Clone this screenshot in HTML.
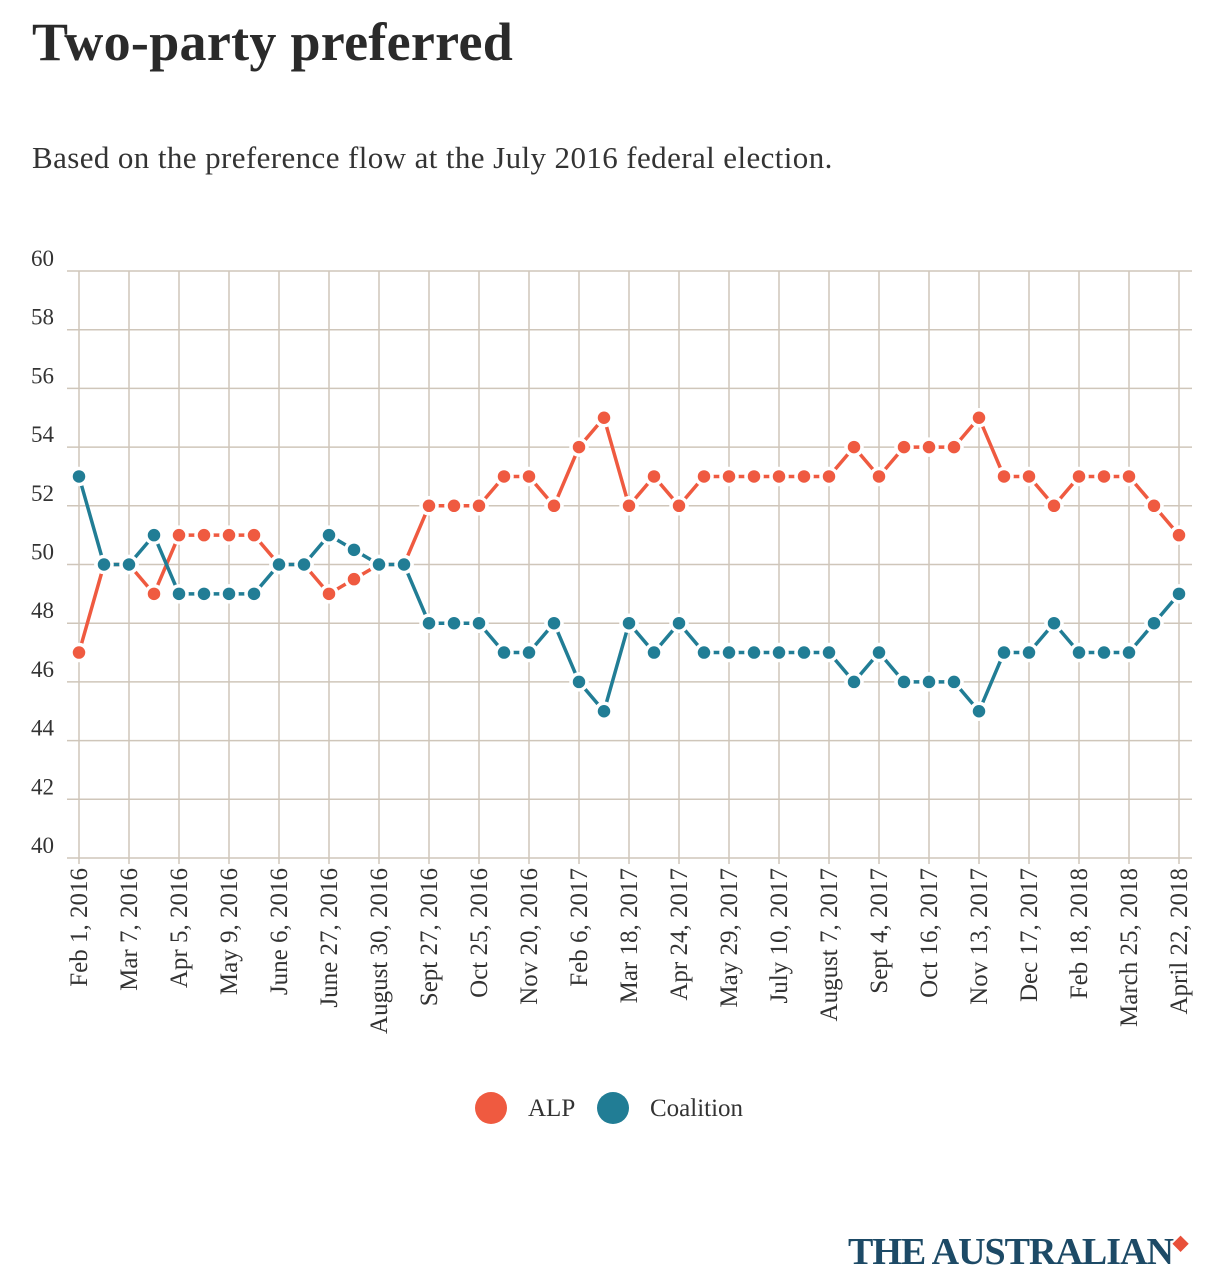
<!DOCTYPE html>
<html><head><meta charset="utf-8"><style>
body{margin:0;background:#fff;width:1217px;height:1284px;overflow:hidden;font-family:"Liberation Serif",serif;}
h1{position:absolute;left:32px;top:11px;margin:0;font-size:54px;font-weight:bold;color:#2a2a2a;letter-spacing:0.3px;}
.sub{position:absolute;left:32px;top:140px;font-size:31px;letter-spacing:0.4px;color:#333;margin:0;}
svg{position:absolute;left:0;top:0;}
.logo{position:absolute;left:848px;top:1230px;font-size:38px;font-weight:bold;color:#1d4a66;letter-spacing:-1px;}
</style></head><body>
<h1>Two-party preferred</h1>
<p class="sub">Based on the preference flow at the July 2016 federal election.</p>
<svg id="chart" width="1217" height="1284"></svg>
<div class="logo">THE AUSTRALIAN<span style="color:#e8503a;font-size:20px;vertical-align:top">&#9670;</span></div>
<script>
const labels=["Feb 1, 2016","Mar 7, 2016","Apr 5, 2016","May 9, 2016","June 6, 2016","June 27, 2016","August 30, 2016","Sept 27, 2016","Oct 25, 2016","Nov 20, 2016","Feb 6, 2017","Mar 18, 2017","Apr 24, 2017","May 29, 2017","July 10, 2017","August 7, 2017","Sept 4, 2017","Oct 16, 2017","Nov 13, 2017","Dec 17, 2017","Feb 18, 2018","March 25, 2018","April 22, 2018"];
const yTicks=[40,42,44,46,48,50,52,54,56,58,60];
const alp=[47,50,50,49,51,51,51,51,50,50,49,49.5,50,50,52,52,52,53,53,52,54,55,52,53,52,53,53,53,53,53,53,54,53,54,54,54,55,53,53,52,53,53,53,52,51];
const coalition=[53,50,50,51,49,49,49,49,50,50,51,50.5,50,50,48,48,48,47,47,48,46,45,48,47,48,47,47,47,47,47,47,46,47,46,46,46,45,47,47,48,47,47,47,48,49];
const NS="http://www.w3.org/2000/svg";
const svg=document.getElementById('chart');
const x0=79,x1=1179,yTop=271,yBot=858;
const xs=i=>x0+(x1-x0)*i/(alp.length-1);
const ys=v=>yBot-(v-40)/20*(yBot-yTop);
function mk(t,a){const e=document.createElementNS(NS,t);for(const k in a)e.setAttribute(k,a[k]);svg.appendChild(e);return e;}
yTicks.forEach(v=>{
 const l=mk('line',{x1:x0-12,x2:1192,y1:ys(v),y2:ys(v),stroke:'#cfc6ba','stroke-width':1.5});
 
 
 const t=mk('text',{x:31,y:ys(v)-5,'font-size':23,fill:'#333','font-family':'Liberation Serif, serif'});
 t.textContent=v;
 
 
});
labels.forEach((s,j)=>{
 const x=xs(j*2);
 const l=mk('line',{x1:x,x2:x,y1:yTop,y2:yBot+6,stroke:'#cfc6ba','stroke-width':1.5});
 
 
 const t=mk('text',{x:0,y:0,'font-size':25,fill:'#333','font-family':'Liberation Serif, serif','text-anchor':'end',transform:`translate(${x+8},${yBot+10}) rotate(-90)`});
 t.textContent=s;
 
 
});
function series(data,color,name){
 const p=mk('polyline',{points:data.map((v,i)=>xs(i)+','+ys(v)).join(' '),fill:'none',stroke:color,'stroke-width':3.5});
 
 
 data.forEach((v,i)=>{
  const c=mk('circle',{cx:xs(i),cy:ys(v),r:8,fill:color,stroke:'#fff','stroke-width':3.5});
  
  
 });
}
series(alp,'#ef5a40','alp');
series(coalition,'#217d95','coalition');
const lg=[[491,'#ef5a40','ALP',528],[613,'#217d95','Coalition',650]];
lg.forEach(([cx,col,txt,tx])=>{
 const c=mk('circle',{cx:cx,cy:1108,r:16,fill:col});
 
 
 const t=mk('text',{x:tx,y:1116,'font-size':25,fill:'#333','font-family':'Liberation Serif, serif'});
 t.textContent=txt;
 
 
});
</script>
</body></html>
